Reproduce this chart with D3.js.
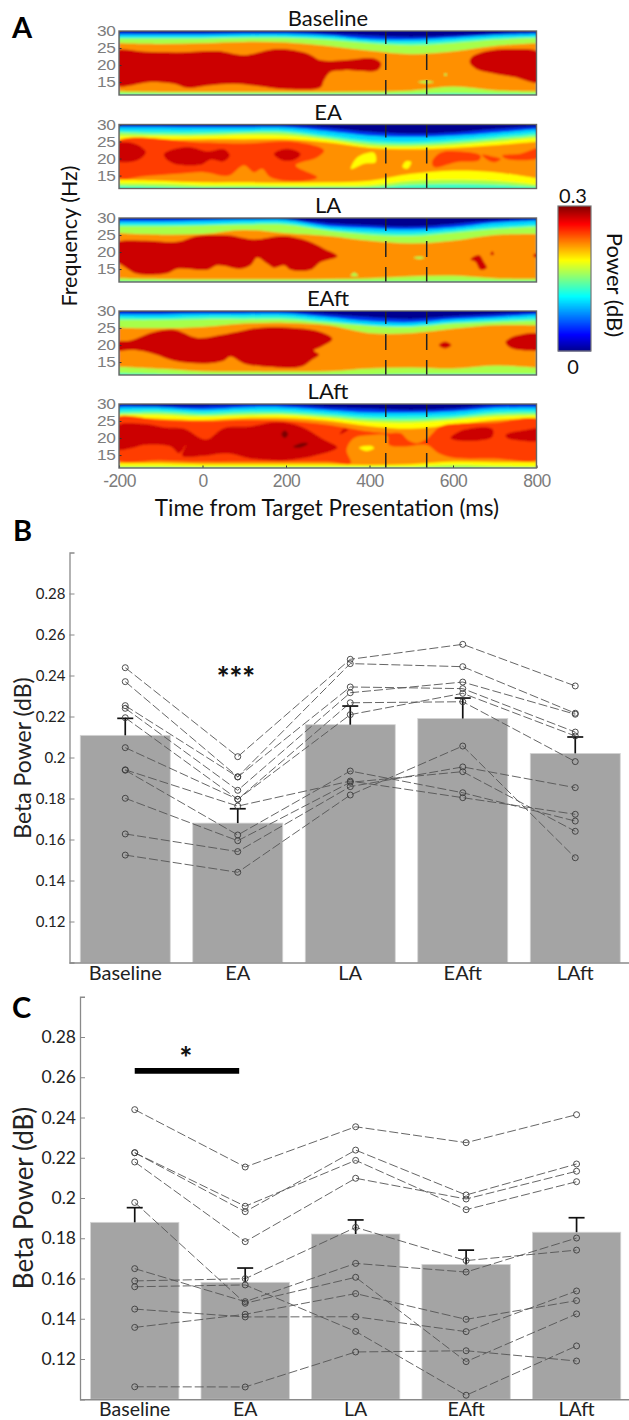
<!DOCTYPE html>
<html><head><meta charset="utf-8">
<script src="https://cdnjs.cloudflare.com/ajax/libs/d3/7.8.5/d3.min.js"></script>
<style>html,body{margin:0;background:#fff}svg{display:block}text{font-family:Lato,"Open Sans",sans-serif}</style>
</head><body><svg id="c" width="629" height="1420"></svg>
<script>
// ---------- Panel A data (time ms, frequency Hz) ----------
const hmTimes=[-200,-100,0,100,200,300,400,500,600,700,800];
const hmNames=["Baseline","EA","LA","EAft","LAft"];
const hmFreqTicks=[15,20,25,30];
const hmTimeTicks=[-200,0,200,400,600,800];
const hmEvents=[439,537];
const baselineUpper=[
 ["blue",[29.6,29.5,29.5,29.6,29.6,29.2,28.6,28.2,28.6,29.2,29.6]],
 ["cyan",[29,29,29,29.1,29.1,28.7,27.6,27.4,28,28.8,29.1]],
 ["aqua",[28.2,28.2,28.2,28.4,28.4,28,27,26.6,27.2,28,28.4]],
 ["lime",[27.8,27.8,27.8,28,28,27.4,26.4,25.8,26.5,27.5,28]],
 ["orange",[26.4,26.2,26.4,26.8,26.6,25.6,24.2,23.2,24,25.6,26.4]]];
const baselineLower=[
 ["lime",[12.3,12.1,12.1,12.1,12.1,12.1,12.2,12.5,13.7,12.6,12.3]],
 ["aqua",[11.5,11.5,11.5,11.5,11.5,11.5,11.5,11.6,11.7,11.6,11.5]]];
const baselineRegions=[
 ["red",[[-210,23.9],[-140,23.9],[-60,23.7],[36,24.1],[99,22.9],[179,24.7],[251,23.4],[283,21.4],[339,21.4],[411,21.9],[428,20.4],[419,18.5],[339,18.5],[307,18],[291,15.5],[283,13.5],[203,12.9],[123,14],[75,14.5],[12,14],[-36,13.3],[-68,14.5],[-124,15],[-210,14.2]]],
 ["red",[[810,23.4],[740,24.7],[682,24.1],[646,22.4],[640,20.9],[654,19],[698,17.5],[746,16.5],[810,15]]],
 ["lime",[[515,15],[534,15.4],[555,15],[534,14.6]]],
 ["lime",[[578,17.2],[582,17.6],[586,17.2],[582,16.8]]]];
const eaUpper=[
 ["blue",[29.7,29.7,29.7,29.6,29.6,29,27.8,27.2,27.6,28.6,29.4]],
 ["cyan",[29.2,29.2,29.1,29.1,29.1,28,26.7,26.3,26.7,27.6,28.6]],
 ["aqua",[28.2,28,28,28.2,28.2,26.8,25.3,24.9,25.5,26.5,27.6]],
 ["lime",[27.6,27.2,27.2,27.6,27.6,26.1,24.5,24.1,24.7,25.7,26.8]],
 ["yellow",[26.6,26.6,26.6,27,26.8,25.5,23.7,23.5,23.9,24.9,26.1]],
 ["orange",[25.3,25.5,25.7,25.7,25.7,24.7,23.1,22.7,23.1,23.9,24.9]]];
const eaLower=[
 ["yellow",[13.8,13.5,13,13,12.9,13,13.5,15.5,16.5,16,14.2]],
 ["lime",[12.7,12.6,12.1,12.1,11.9,11.9,12.1,13.5,13.8,13.5,12.3]],
 ["aqua",[11.9,11.7,11.5,11.5,11.4,11.4,11.5,12.3,12.5,12.3,11.7]]];
const eaRegions=[
 ["redorange",[[-210,24.7],[0,24.7],[99,24.4],[219,24.9],[291,22.4],[275,20.4],[223,18],[275,14.5],[227,13.3],[163,14.5],[143,17],[123,16],[99,18],[63,15],[4,16],[-60,15.5],[-140,14.8],[-210,14.5]]],
 ["red",[[-210,24.1],[-164,24.4],[-136,21.9],[-156,19.5],[-210,19.5]]],
 ["red",[[-92,21.4],[-36,23.4],[12,22.1],[51,22.7],[65,20.9],[51,19.2],[20,19.7],[-4,18.2],[-68,18.5],[-88,20]]],
 ["red",[[171,21.4],[203,22.9],[235,21.4],[223,19.8],[191,19.5]]],
 ["redorange",[[550,19],[570,21.7],[618,22.1],[666,20.9],[662,19.5],[610,19],[555,17.5]]],
 ["redorange",[[670,21.1],[690,20.7],[714,19.9],[698,18.9],[678,20]]],
 ["redorange",[[718,20.9],[762,21.4],[810,23.1],[810,20.4],[754,19.5],[726,20]]],
 ["yellow",[[355,17],[371,20.4],[411,21.7],[415,19],[387,18.5],[360,17]]],
 ["yellow",[[479,17.5],[487,19.2],[500,19],[491,17]]]];
const laUpper=[
 ["blue",[29.7,29.7,29.7,29.7,29.6,28.4,27.8,27.4,28.2,29.2,29.6]],
 ["cyan",[29,29,29.2,29.4,29.4,27.6,27,26.6,27.2,28.6,29.2]],
 ["aqua",[28.2,28.2,28.2,28.6,28.6,26.8,25.9,25.5,26.3,27.4,28]],
 ["lime",[27.6,27.6,27.8,28,28,26.3,25.1,24.7,25.7,26.8,27.4]],
 ["orange",[25.5,25.1,25.3,26.5,25.5,24.7,23.3,22.5,23.3,25,25.3]]];
const laLower=[
 ["lime",[12.3,12.1,12,12,12,12.1,12.3,12.9,13.1,12.3,12.1]],
 ["aqua",[11.4,11.4,11.4,11.4,11.4,11.4,11.4,11.4,11.4,11.4,11.4]]];
const laRegions=[
 ["red",[[-210,22.5],[-140,23.3],[-60,23],[-12,24.7],[59,24.9],[123,23.7],[195,24.7],[251,23.3],[291,21],[323,18.8],[283,17.1],[259,14.8],[211,14.8],[195,16.1],[171,15.4],[155,16.6],[131,18.4],[115,16.1],[91,15.1],[36,16.1],[12,14.8],[-60,15.1],[-84,13.8],[-156,13.6],[-180,15.1],[-210,18.1]]],
 ["red",[[642,17.8],[662,19.1],[674,17.1],[681,15.4],[666,14.8],[654,17.1]]],
 ["red",[[690,19.2],[694,20.2],[698,19.2]]],
 ["red",[[810,19.9],[792,19],[810,18]]],
 ["lime",[[505,18.3],[519,18.7],[532,18.3],[519,17.9]]],
 ["lime",[[355,13],[363,14],[373,13]]]];
const eaftUpper=[
 ["blue",[29.7,29.6,29.7,29.7,29.7,29,28.2,27.6,28.4,29,29.6]],
 ["cyan",[29,29,29.2,29.2,29.2,28.2,27,26.6,27.6,28.2,29]],
 ["aqua",[28.2,28,28.4,28.4,28.4,27.2,25.9,25.7,26.8,27.4,28]],
 ["lime",[27.4,27.4,27.6,27.6,27.6,26.6,25.7,25.3,26.3,26.8,27.2]],
 ["orange",[25.1,24.9,25.3,26.3,26.5,25.8,23.5,23.5,24.8,25.8,25.8]]];
const eaftLower=[
 ["lime",[13.6,13,12.3,12.2,12.2,12.3,13.1,13.4,13.1,14,13.4]],
 ["aqua",[11.7,11.5,11.3,11.3,11.3,11.3,11.3,11.5,11.5,11.5,11.5]]];
const eaftRegions=[
 ["red",[[-210,20.8],[-172,21.3],[-116,23.8],[-68,24.5],[-12,22.1],[51,23.1],[139,25.1],[211,25.1],[275,24.1],[311,21.8],[283,19.4],[267,18.4],[279,17.2],[259,15.4],[235,13.6],[155,13.6],[99,14.6],[67,16.6],[51,15.4],[4,14.6],[-68,15.4],[-116,17.4],[-164,18.6],[-210,18.6]]],
 ["red",[[566,20],[581,21],[596,20],[581,19]]],
 ["red",[[810,23.1],[750,22.7],[726,20.8],[738,19.2],[778,18.4],[810,18.9]]]];
const laftUpper=[
 ["blue",[29.7,29.4,29.3,29.7,29.7,29,28.6,28.2,28.6,29.6,29.7]],
 ["cyan",[29,29,28.4,29,29,28.2,27.4,27.4,27.8,28.8,29]],
 ["aqua",[28,28.2,27.6,28,28,27.2,26.3,26.3,26.6,27.8,28]],
 ["lime",[27.2,27.4,26.8,27.2,27.2,26.5,25.5,25.3,25.9,27,27.2]],
 ["yellow",[26.8,26.8,26.3,26.6,26.8,25.9,24.7,24.5,25.3,26.3,26.6]],
 ["orange",[26.1,25.7,25.3,25.9,25.9,25.1,23.5,22.7,23.9,25.3,25.9]]];
const laftLower=[
 ["yellow",[12.6,12.6,12.3,12.3,12.3,12.3,12.1,12.3,13.1,12.9,12.9]],
 ["lime",[11.7,11.7,11.6,11.6,11.6,11.6,11.6,11.6,12.1,11.8,11.6]],
 ["aqua",[11.2,11.2,11.2,11.2,11.2,11.2,11.2,11.2,11.2,11.2,11.2]]];
const laftRegions=[
 ["redorange",[[-210,25.7],[-100,25.3],[0,24.9],[99,25.3],[199,25.1],[299,23.9],[399,21.9],[443,21.4],[475,21.4],[491,19.5],[511,18.5],[535,19.5],[570,23.4],[618,24.3],[698,24.5],[810,25.1],[810,14],[698,14],[602,14.2],[566,15.5],[537,18],[483,17.5],[447,18],[443,20.7],[403,20.9],[363,20],[345,16.5],[355,12.6],[299,13],[199,13],[99,13],[0,13],[-100,13.4],[-210,14]]],
 ["red",[[-210,23.4],[-140,24.1],[-92,23.1],[-44,22.7],[8,19.5],[51,22.9],[115,23.4],[179,24.7],[235,23.4],[291,19.5],[323,17.2],[291,15.5],[203,13.5],[115,14],[59,15.5],[4,14.8],[-48,14.8],[-40,18],[-56,15.5],[-76,17.5],[-140,18],[-172,17],[-210,16.8]]],
 ["red",[[594,20],[626,22.4],[694,22.7],[694,20.4],[650,19.2],[602,19.5]]],
 ["red",[[726,20.9],[778,22.4],[810,22.7],[810,19.5],[746,19.5],[730,20]]],
 ["red",[[329,21.1],[339,22.7],[349,22.4]]],
 ["maroon",[[189,21.1],[197,22.2],[205,21.1],[197,20]]],
 ["maroon",[[217,17.4],[240,18.6],[253,18.4],[235,17.2]]],
 ["yellow",[[375,17.2],[403,17.7],[411,17],[391,16.2]]]];
const hmLevels={navy:"#00008f",blue:"#0038f0",cyan:"#00d8ff",aqua:"#3cffc4",lime:"#a8ff48",yellow:"#ffff00",orange:"#ff9000",redorange:"#ff3c00",red:"#cc0000",maroon:"#7a0000"};
const hmSpecs=[[baselineUpper,baselineLower,baselineRegions],[eaUpper,eaLower,eaRegions],[laUpper,laLower,laRegions],[eaftUpper,eaftLower,eaftRegions],[laftUpper,laftLower,laftRegions]];
const jetStops=[0,0.11,0.375,0.5,0.625,0.875,1];
const jetColors=["#00008f","#0000ff","#00ffff","#80ff80","#ffff00","#ff0000","#800000"];
// ---------- Panels B, C data ----------
const sessions=["Baseline","EA","LA","EAft","LAft"];
const powerTicks=[0.12,0.14,0.16,0.18,0.2,0.22,0.24,0.26,0.28];
const bMeans=[0.2108,0.168,0.216,0.219,0.202];
const bErrTops=[0.2191,0.175,0.2251,0.229,0.21];
const bSubjects=[
 [0.2438,0.2004,0.2479,0.2552,0.2349],
 [0.237,0.1906,0.2458,0.2443,0.2216],
 [0.2253,0.1905,0.2344,0.2336,0.2124],
 [0.224,0.184,0.2316,0.2368,0.2211],
 [0.2194,0.1796,0.2267,0.2272,0.198],
 [0.2048,0.1796,0.2209,0.2313,0.2105],
 [0.194,0.1763,0.1885,0.1804,0.1723],
 [0.1938,0.1622,0.1934,0.1828,0.169],
 [0.1801,0.1594,0.1879,0.1931,0.164],
 [0.1627,0.1541,0.1858,0.1954,0.1853],
 [0.1524,0.144,0.1817,0.2056,0.1511]];
const cMeans=[0.1879,0.1581,0.1821,0.167,0.183];
const cErrTops=[0.1952,0.1652,0.1891,0.1741,0.1902];
const cSubjects=[
 [0.2439,0.2154,0.2354,0.2275,0.2414],
 [0.2225,0.1959,0.2187,0.1942,0.2081],
 [0.2225,0.1932,0.2238,0.2015,0.2169],
 [0.2179,0.1783,0.2098,0.1995,0.2133],
 [0.1978,0.1477,0.1606,0.1187,0.1424],
 [0.1649,0.1485,0.1675,0.1632,0.1801],
 [0.1588,0.1599,0.1854,0.1689,0.1741],
 [0.1559,0.1568,0.1337,0.102,0.1265],
 [0.1448,0.1409,0.141,0.1336,0.1538],
 [0.1357,0.1422,0.1525,0.1397,0.149],
 [0.1062,0.1061,0.1235,0.1241,0.119]];
const cSigLevel=0.2632;

const svg=d3.select("#c");
const defs=svg.append("defs");
defs.append("filter").attr("id","soft").attr("x","-5%").attr("y","-5%").attr("width","110%").attr("height","110%")
  .append("feGaussianBlur").attr("stdDeviation",0.9);

// ---------- Panel A ----------
const hmTops=[31,124.5,218,311,404];
const hmH=64, hmX0=119, hmX1=536.5;
const tx=d3.scaleLinear().domain([-200,800]).range([hmX0,hmX1]);
hmNames.forEach((name,i)=>{
  const top=hmTops[i], fy=d3.scaleLinear().domain([11.2,30]).range([top+hmH,top]);
  const [upper,lower,regions]=hmSpecs[i];
  const g=svg.append("g");
  const cid="clip"+i;
  defs.append("clipPath").attr("id",cid).append("rect").attr("x",hmX0).attr("y",top).attr("width",hmX1-hmX0).attr("height",hmH);
  const inner=g.append("g").attr("clip-path",`url(#${cid})`).append("g").attr("filter","url(#soft)");
  inner.append("rect").attr("x",hmX0-5).attr("y",top-5).attr("width",hmX1-hmX0+10).attr("height",hmH+10).attr("fill",hmLevels.navy);
  const area=d3.area().x((d,j)=>tx(hmTimes[j])).y0(top+hmH+6).y1(d=>fy(d)).curve(d3.curveCatmullRom);
  upper.concat(lower).forEach(([lv,edge])=>inner.append("path").attr("d",area(edge)).attr("fill",hmLevels[lv]));
  const shape=d3.line().x(d=>tx(d[0])).y(d=>fy(d[1])).curve(d3.curveCatmullRomClosed);
  regions.forEach(([lv,pts])=>inner.append("path").attr("d",shape(pts)).attr("fill",hmLevels[lv]));
  // events
  hmEvents.forEach(t=>g.append("line").attr("x1",tx(t)).attr("x2",tx(t)).attr("y1",top).attr("y2",top+hmH)
     .attr("stroke","#222").attr("stroke-width",1.5).attr("stroke-dasharray","13,10,16,10,15"));
  // axes
  const ay=d3.axisLeft(fy).tickValues(hmFreqTicks).tickSize(-2.5).tickPadding(3);
  const gy=g.append("g").attr("transform",`translate(${hmX0},0)`).call(ay);
  gy.selectAll("text").attr("fill","#7c7c7c").attr("font-size",14.4).style("font-family","'Liberation Sans'").attr("letter-spacing",-0.3).attr("transform","scale(1.2,1)");
  gy.selectAll("line").attr("stroke","#333"); gy.select(".domain").remove();
  if(i===4){
    const ax=d3.axisBottom(tx).tickValues(hmTimeTicks).tickSize(-2.5).tickPadding(7).tickFormat(d=>d);
    const gx=g.append("g").attr("transform",`translate(0,${top+hmH})`).call(ax);
    gx.selectAll("text").attr("fill","#7c7c7c").attr("font-size",17.5).style("font-family","'Liberation Sans'").attr("letter-spacing",-0.6);
    gx.selectAll("line").attr("stroke","#333"); gx.select(".domain").remove();
  }
  g.append("rect").attr("x",hmX0).attr("y",top).attr("width",hmX1-hmX0).attr("height",hmH).attr("fill","none").attr("stroke","#666").attr("stroke-width",1.4);
  svg.append("text").attr("x",328).attr("y",top-5).attr("text-anchor","middle").attr("font-size",22).attr("fill","#111").text(name);
});
svg.append("text").attr("transform","translate(77,236) rotate(-90)").attr("text-anchor","middle").attr("font-size",21.5).attr("fill","#111").text("Frequency (Hz)");
svg.append("text").attr("x",327).attr("y",516).attr("text-anchor","middle").attr("font-size",22.5).attr("fill","#111").text("Time from Target Presentation (ms)");
// colorbar
const cbY=d3.scaleLinear().domain([0,1]).range([351,206]);
const jet=d3.scaleLinear().domain(jetStops).range(jetColors);
d3.range(0,1,1/145).forEach(v=>svg.append("rect").attr("x",558).attr("width",33).attr("y",cbY(v+1/145)).attr("height",1.4).attr("fill",jet(v)));
svg.append("rect").attr("x",558).attr("y",206).attr("width",33).attr("height",145).attr("fill","none").attr("stroke","#777").attr("stroke-width",1.2);
svg.append("text").attr("x",573).attr("y",203).attr("text-anchor","middle").attr("font-size",20).attr("fill","#111").text("0.3");
svg.append("text").attr("x",573).attr("y",374).attr("text-anchor","middle").attr("font-size",20).attr("fill","#111").text("0");
svg.append("text").attr("transform","translate(607,285) rotate(90)").attr("text-anchor","middle").attr("font-size",22).attr("fill","#111").text("Power (dB)");

// ---------- Bar panels ----------
function barPanel(o){
  const x=d3.scaleBand().domain(sessions).range(o.xr).paddingInner(0.2).paddingOuter(0.1);
  const y=d3.scaleLinear().domain([0.1,0.3]).range(o.yr);
  const g=svg.append("g");
  g.selectAll("rect.bar").data(o.means).join("rect").attr("class","bar")
    .attr("x",(d,i)=>x(sessions[i])).attr("width",x.bandwidth())
    .attr("y",d=>y(d)).attr("height",d=>y(0.1)-y(d)).attr("fill","#a4a4a4").attr("stroke","#d4d4d4").attr("stroke-width",0.8);
  const cx=s=>x(s)+x.bandwidth()/2;
  const ax=d3.axisBottom(x).tickSize(0).tickPadding(o.xpad);
  const gx=g.append("g").attr("transform",`translate(0,${y(0.1)})`).call(ax);
  gx.select(".domain").attr("stroke","#8a8a8a").attr("stroke-width",1.3);
  gx.selectAll("text").attr("font-size",o.catSize).attr("fill","#222");
  const ay=d3.axisLeft(y).tickValues(powerTicks).tickFormat(d=>d).tickSize(-5).tickPadding(o.ypad);
  const gy=g.append("g").attr("transform",`translate(${o.xr[0]+0.5},0)`).call(ay);
  gy.select(".domain").attr("stroke","#8a8a8a").attr("stroke-width",1.3);
  gy.selectAll(".tick line").attr("stroke","#8a8a8a");
  gy.selectAll("text").attr("font-size",o.tickSize).attr("fill","#222");
  const line=d3.line().x((d,i)=>cx(sessions[i])).y(d=>y(d));
  g.selectAll("path.sub").data(o.subjects).join("path").attr("class","sub").attr("d",line)
    .attr("fill","none").attr("stroke","#555").attr("stroke-width",0.9).attr("stroke-dasharray","9,3");
  // error bars
  o.errs.forEach((e,i)=>{
    const c=cx(sessions[i]);
    g.append("line").attr("x1",c).attr("x2",c).attr("y1",y(o.means[i])).attr("y2",y(e)).attr("stroke","#111").attr("stroke-width",1.7);
    g.append("line").attr("x1",c-8).attr("x2",c+8).attr("y1",y(e)).attr("y2",y(e)).attr("stroke","#111").attr("stroke-width",1.7);
  });
  o.subjects.forEach(row=>row.forEach((v,i)=>g.append("circle").attr("cx",cx(sessions[i])).attr("cy",y(v)).attr("r",3)
    .attr("fill","none").attr("stroke","#3c3c3c").attr("stroke-width",0.9)));
  return {x,y,cx,g};
}
const B=barPanel({xr:[69,631.5],yr:[962.5,552.5],means:bMeans,errs:bErrTops,subjects:bSubjects,catSize:20,tickSize:15,xpad:3,ypad:4});
const C=barPanel({xr:[79.5,631.8],yr:[1399.25,996.75],means:cMeans,errs:cErrTops,subjects:cSubjects,catSize:19.5,tickSize:17.5,xpad:3,ypad:4});
svg.append("text").attr("transform","translate(31,758) rotate(-90)").attr("text-anchor","middle").attr("font-size",23).attr("fill","#222").text("Beta Power (dB)");
svg.append("text").attr("transform","translate(33,1198) rotate(-90)").attr("text-anchor","middle").attr("font-size",26).attr("fill","#222").text("Beta Power (dB)");
svg.append("text").attr("x",236).attr("y",689).attr("text-anchor","middle").attr("font-size",30).attr("font-weight",900).attr("fill","#111").text("***");
C.g.append("line").attr("x1",C.cx("Baseline")).attr("x2",C.cx("EA")-6).attr("y1",C.y(cSigLevel)).attr("y2",C.y(cSigLevel)).attr("stroke","#000").attr("stroke-width",5.7);
svg.append("text").attr("x",186).attr("y",1069).attr("text-anchor","middle").attr("font-size",30).attr("font-weight",900).attr("fill","#111").text("*");
[["A",12,38],["B",13,541],["C",12,1018]].forEach(([t,x,y])=>svg.append("text").attr("x",x).attr("y",y).attr("font-size",29).attr("font-weight",700).attr("fill","#000").text(t));
</script></body></html>
